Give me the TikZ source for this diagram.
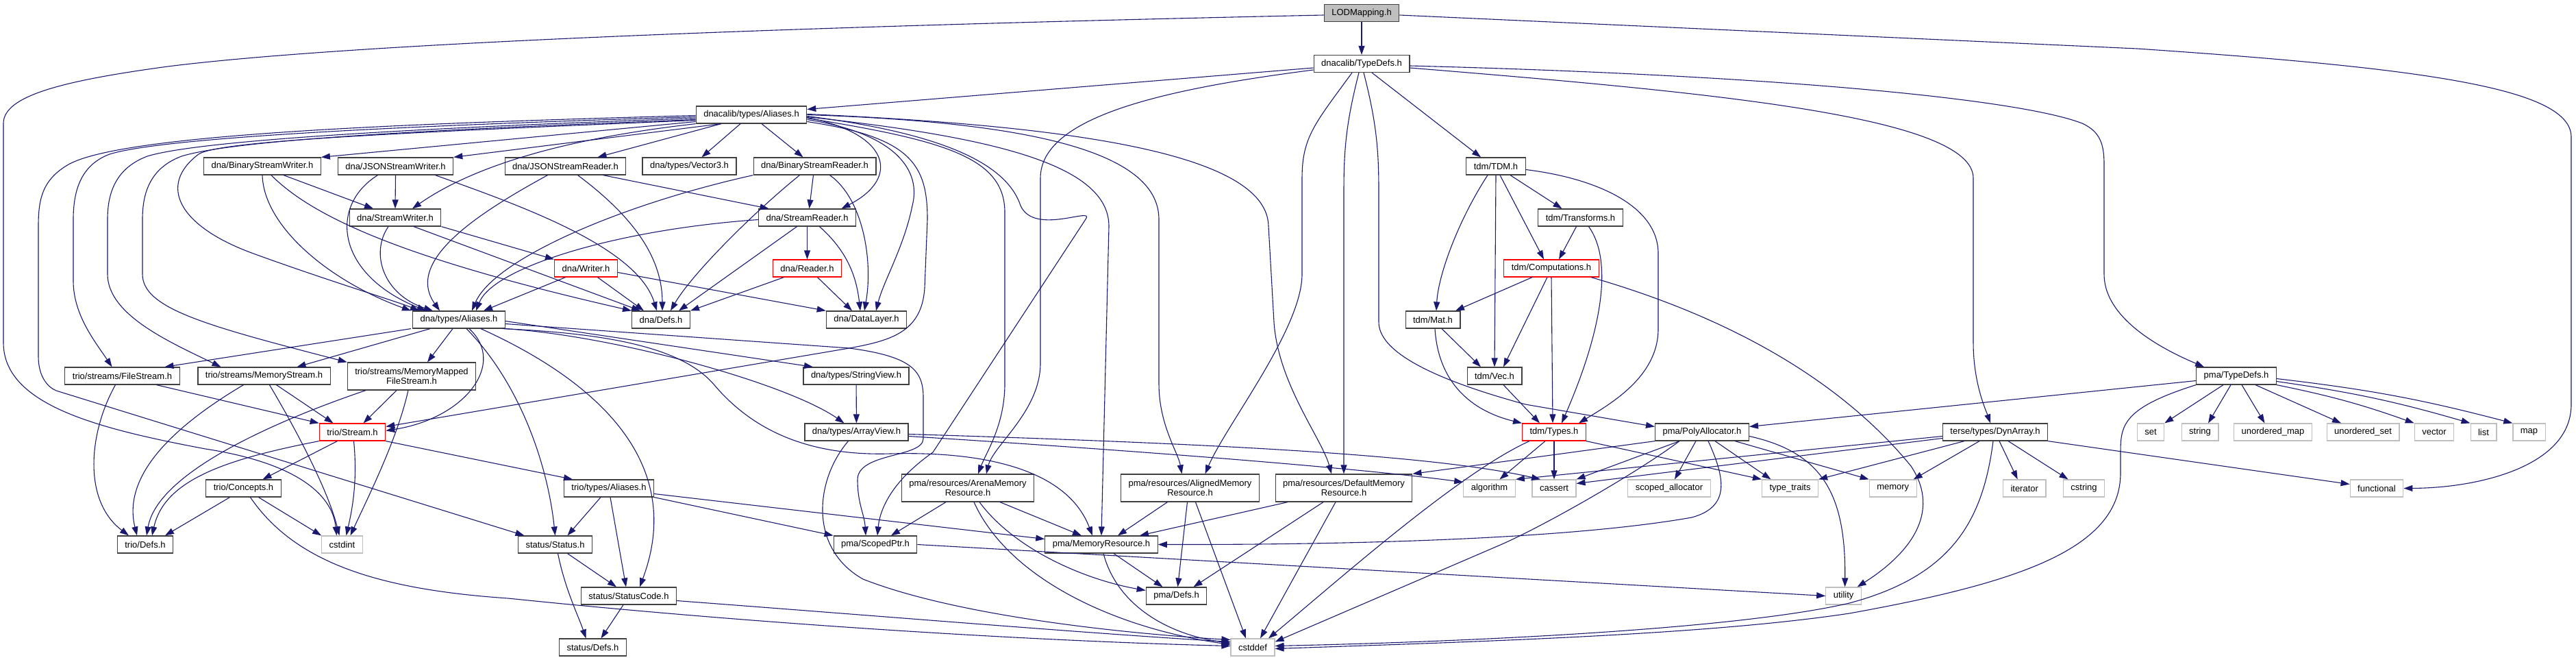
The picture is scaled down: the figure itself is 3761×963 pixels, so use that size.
\documentclass[tikz,border=0pt]{standalone}
\usepackage{fontspec}
\setmainfont{Liberation Sans}
\usetikzlibrary{arrows.meta}
\definecolor{linkblue}{HTML}{191970}
\definecolor{boxgray}{HTML}{404040}
\definecolor{sysgray}{HTML}{BFBFBF}
\tikzset{
  hfile/.style={draw=boxgray, line width=1.2pt, fill=white, inner xsep=11pt,
    inner ysep=0pt, minimum height=25pt, font=\fontsize{13}{14}\selectfont},
  hred/.style={hfile, draw=red},
  hsys/.style={hfile, draw=sysgray},
  htwo/.style={hfile, align=center, minimum height=40pt},
  inc/.style={draw=linkblue, line width=1.1pt, -{Triangle[length=13pt,width=9pt]}}
}
\begin{document}
\begin{tikzpicture}[x=1pt, y=-1pt]
  \useasboundingbox (0,0) rectangle (3761,963);
  %% Top of the graph
  \node[hfile, fill=sysgray] (lod) at (1988,19) {LODMapping.h};
  \node[hfile] (dtypedefs) at (1988,93) {dnacalib/TypeDefs.h};
  \node[hfile] (dcaliases) at (1097,167.5) {dnacalib/types/Aliases.h};
  %% dna headers
  \node[hfile] (bsw) at (383,242.5) {dna/BinaryStreamWriter.h};
  \node[hfile] (jsw) at (577.5,242.5) {dna/JSONStreamWriter.h};
  \node[hfile] (jsr) at (825.5,242.5) {dna/JSONStreamReader.h};
  \node[hfile] (vec3) at (1006.5,242.5) {dna/types/Vector3.h};
  \node[hfile] (bsr) at (1189.5,242.5) {dna/BinaryStreamReader.h};
  \node[hfile] (sw) at (577,317.5) {dna/StreamWriter.h};
  \node[hfile] (sr) at (1178.5,317.5) {dna/StreamReader.h};
  \node[hred] (writer) at (855.5,391.5) {dna/Writer.h};
  \node[hred] (reader) at (1178.5,391.5) {dna/Reader.h};
  \node[hfile] (dnaaliases) at (670,466.5) {dna/types/Aliases.h};
  \node[hfile] (dnadefs) at (965,466.5) {dna/Defs.h};
  \node[hfile] (datalayer) at (1265,466.5) {dna/DataLayer.h};
  \node[hfile] (stringview) at (1250,548.5) {dna/types/StringView.h};
  \node[hfile] (arrayview) at (1250.5,630.5) {dna/types/ArrayView.h};
  %% tdm headers
  \node[hfile] (tdm) at (2184,242.5) {tdm/TDM.h};
  \node[hfile] (transforms) at (2307.5,317.5) {tdm/Transforms.h};
  \node[hred] (computations) at (2265,391.5) {tdm/Computations.h};
  \node[hfile] (mat) at (2092,466.5) {tdm/Mat.h};
  \node[hfile] (vec) at (2182,548.5) {tdm/Vec.h};
  \node[hred] (types) at (2269,630.5) {tdm/Types.h};
  %% trio headers
  \node[hfile] (filestream) at (178.5,548.5) {trio/streams/FileStream.h};
  \node[hfile] (memstream) at (385.5,548.5) {trio/streams/MemoryStream.h};
  \node[htwo] (mmfs) at (601,549) {trio/streams/MemoryMapped\\FileStream.h};
  \node[hred] (triostream) at (514.5,630.5) {trio/Stream.h};
  \node[hfile] (concepts) at (355.5,712.5) {trio/Concepts.h};
  \node[hfile] (trioaliases) at (889,712.5) {trio/types/Aliases.h};
  \node[hfile] (triodefs) at (212,794.5) {trio/Defs.h};
  %% status headers
  \node[hfile] (status) at (810.5,794.5) {status/Status.h};
  \node[hfile] (statuscode) at (918,869.5) {status/StatusCode.h};
  \node[hfile] (statusdefs) at (865.5,944.5) {status/Defs.h};
  %% pma headers
  \node[htwo] (arena) at (1413,712) {pma/resources/ArenaMemory\\Resource.h};
  \node[htwo] (aligned) at (1737.5,712) {pma/resources/AlignedMemory\\Resource.h};
  \node[htwo] (dflt) at (1962,712) {pma/resources/DefaultMemory\\Resource.h};
  \node[hfile] (scopedptr) at (1278,794.5) {pma/ScopedPtr.h};
  \node[hfile] (memres) at (1608,794.5) {pma/MemoryResource.h};
  \node[hfile] (pmadefs) at (1717.5,869.5) {pma/Defs.h};
  \node[hfile] (poly) at (2485,630.5) {pma/PolyAllocator.h};
  \node[hfile] (pmatypedefs) at (3265,548.5) {pma/TypeDefs.h};
  \node[hfile] (dynarray) at (2913,630.5) {terse/types/DynArray.h};
  %% system headers
  \node[hsys] (cstdint) at (499.5,794.5) {cstdint};
  \node[hsys] (cstddef) at (1829,944.5) {cstddef};
  \node[hsys] (algorithm) at (2174.5,712.5) {algorithm};
  \node[hsys] (cassert) at (2269,712.5) {cassert};
  \node[hsys] (scopedalloc) at (2437,712.5) {scoped\_allocator};
  \node[hsys] (typetraits) at (2613.5,712.5) {type\_traits};
  \node[hsys] (memory) at (2763.7,712.5) {memory};
  \node[hsys] (iterator) at (2955.7,712.5) {iterator};
  \node[hsys] (cstring) at (3042.5,712.5) {cstring};
  \node[hsys] (functional) at (3470,712.5) {functional};
  \node[hsys] (utility) at (2691.6,869.5) {utility};
  \node[hsys] (set) at (3140,630.5) {set};
  \node[hsys] (string) at (3212,630.5) {string};
  \node[hsys] (umap) at (3318.5,630.5) {unordered\_map};
  \node[hsys] (uset) at (3450,630.5) {unordered\_set};
  \node[hsys] (vector) at (3554,630.5) {vector};
  \node[hsys] (list) at (3626,630.5) {list};
  \node[hsys] (map) at (3692.5,630.5) {map};

  %% LODMapping.h
  \draw[inc] (lod) -- (dtypedefs);
  \draw[inc] ([yshift=-3]lod.west) .. controls (1100,40) and (500,65) .. (245,97)
    .. controls (90,118) and (5,140) .. (5,180) -- (5,500)
    .. controls (5,590) and (140,625) .. (300,655)
    .. controls (430,675) and (485,720) .. ([xshift=-8]cstdint.north);
  \draw[inc] ([yshift=-3]lod.east) -- (3120,71) .. controls (3550,100) and (3754,130) .. (3754,200)
    -- (3754,590) .. controls (3754,680) and (3620,712) .. (functional.east);

  %% dnacalib/TypeDefs.h
  \draw[inc] ([yshift=-6]dtypedefs.west) -- ([yshift=8]dcaliases.east);
  \draw[inc] ([yshift=-9]dtypedefs.west) .. controls (1700,130) and (1519,170) .. (1519,260)
    -- (1519,530) .. controls (1519,600) and (1450,650) .. ([xshift=27]arena.north);
  \draw[inc] ([xshift=-14]dtypedefs.south) .. controls (1920,180) and (1901,200) .. (1901,260)
    -- (1901,400) .. controls (1901,480) and (1790,620) .. ([xshift=22]aligned.north);
  \draw[inc] ([xshift=-4]dtypedefs.south) .. controls (1965,180) and (1962,220) .. (1962,280)
    -- (dflt.north);
  \draw[inc] ([xshift=3]dtypedefs.south) .. controls (2010,180) and (2013,220) .. (2013,280)
    -- (2013,470) .. controls (2013,510) and (2080,550) .. (2227,590) -- ([yshift=8]poly.west);
  \draw[inc] ([xshift=15]dtypedefs.south) -- ([xshift=-22]tdm.north);
  \draw[inc] ([yshift=-3]dtypedefs.east) .. controls (2600,110) and (2950,145) .. (3040,180)
    .. controls (3066,192) and (3072,210) .. (3072,240) -- (3072,400)
    .. controls (3072,470) and (3170,515) .. ([xshift=-47]pmatypedefs.north);
  \draw[inc] ([yshift=-6]dtypedefs.east) .. controls (2500,135) and (2881,170) .. (2881,260)
    -- (2881,500) .. controls (2881,560) and (2900,600) .. ([xshift=-7]dynarray.north);

  %% dnacalib/types/Aliases.h
  \draw[inc] ([yshift=-10]dcaliases.west) -- (bsw.north east);
  \draw[inc] ([xshift=-44]dcaliases.south) -- (jsw.north east);
  \draw[inc] ([xshift=-44]dcaliases.south) -- ([xshift=47]jsr.north);
  \draw[inc] ([xshift=-16]dcaliases.south) -- ([xshift=18]vec3.north);
  \draw[inc] ([xshift=15]dcaliases.south) -- ([xshift=-17]bsr.north);
  \draw[inc] (dcaliases.south west) .. controls (800,205) and (680,250) .. ([xshift=25]sw.north);
  \draw[inc] ([yshift=-4]dcaliases.east) .. controls (1300,195) and (1315,260) .. ([xshift=50]sr.north);
  \draw[inc] ([yshift=-7]dcaliases.east) .. controls (1310,195) and (1345,250) .. (1332,300)
    .. controls (1320,360) and (1290,410) .. ([xshift=14]datalayer.north);
  \draw[inc] ([yshift=-10]dcaliases.east) .. controls (1330,200) and (1354,240) .. (1354,320)
    -- (1350,420) .. controls (1346,485) and (1300,497) .. (1240,508) -- ([yshift=8]triostream.east);
  \draw[inc] ([yshift=-2]dcaliases.east) .. controls (1380,195) and (1470,240) .. (1490,300)
    .. controls (1510,345) and (1600,300) .. (1585,320) -- (1362,660)
    .. controls (1305,700) and (1285,740) .. ([xshift=3]scopedptr.north);
  \draw[inc] ([yshift=-5]dcaliases.east) .. controls (1380,205) and (1467,230) .. (1467,310)
    -- (1467,560) .. controls (1467,620) and (1440,660) .. ([xshift=15]arena.north);
  \draw[inc] ([yshift=-3]dcaliases.east) .. controls (1450,200) and (1619,240) .. (1619,330)
    -- (memres.north);
  \draw[inc] (dcaliases.east) .. controls (1500,178) and (1692,220) .. (1692,320)
    -- (1692,560) .. controls (1692,620) and (1720,660) .. ([xshift=-12]aligned.north);
  \draw[inc] ([yshift=1]dcaliases.east) .. controls (1600,185) and (1850,230) .. (1852,330)
    -- (1860,470) .. controls (1866,560) and (1930,640) .. ([xshift=-18]dflt.north);
  \draw[inc] ([yshift=-1]dcaliases.west) .. controls (600,180) and (180,195) .. (100,240)
    .. controls (62,262) and (56,290) .. (56,330) -- (56,520)
    .. controls (56,550) and (70,565) .. (82,570) -- ([xshift=-45]status.north);
  \draw[inc] ([yshift=-3]dcaliases.west) .. controls (600,183) and (240,200) .. (160,225)
    .. controls (120,240) and (107,275) .. (107,320) -- (107,410)
    .. controls (107,460) and (140,500) .. ([xshift=-15]filestream.north);
  \draw[inc] ([yshift=-5]dcaliases.west) .. controls (600,187) and (290,205) .. (215,228)
    .. controls (170,245) and (157,280) .. (157,320) -- (157,400)
    .. controls (157,460) and (250,500) .. ([xshift=-63]memstream.north);
  \draw[inc] ([yshift=-7]dcaliases.west) .. controls (600,190) and (340,205) .. (265,228)
    .. controls (220,245) and (208,280) .. (208,320) -- (208,400)
    .. controls (208,450) and (300,475) .. (mmfs.north west);
  \draw[inc] ([yshift=-8]dcaliases.west) .. controls (600,193) and (320,205) .. (290,225)
    .. controls (230,270) and (260,330) .. (370,370)
    .. controls (480,410) and (580,440) .. ([xshift=-58]dnaaliases.north);

  %% dna writers
  \draw[inc] ([xshift=31]bsw.south) -- ([xshift=-32]sw.north);
  \draw[inc] (bsw.south) .. controls (385,330) and (480,410) .. ([xshift=-70]dnaaliases.north);
  \draw[inc] ([xshift=13]bsw.south) .. controls (460,320) and (600,380) .. (dnadefs.north west);
  \draw[inc] (jsw.south) -- (sw.north);
  \draw[inc] ([xshift=-26]jsw.south) .. controls (480,300) and (490,400) .. ([xshift=-48]dnaaliases.north);
  \draw[inc] ([xshift=58]jsw.south) .. controls (760,300) and (930,360) .. ([xshift=-6]dnadefs.north);
  \draw[inc] (sw.south east) -- (writer.north west);
  \draw[inc] ([xshift=27]sw.south) -- ([xshift=-30]dnadefs.north);
  \draw[inc] ([xshift=-10]sw.south) .. controls (540,370) and (560,430) .. ([xshift=-38]dnaaliases.north);

  %% dna readers
  \draw[inc] ([xshift=-26]jsr.south) .. controls (700,310) and (590,380) .. ([xshift=-28]dnaaliases.north);
  \draw[inc] ([xshift=18]jsr.south) .. controls (930,320) and (967,380) .. ([xshift=2]dnadefs.north);
  \draw[inc] ([xshift=55]jsr.south) -- ([xshift=-56]sr.north);
  \draw[inc] ([xshift=-2]bsr.south) -- ([xshift=3]sr.north);
  \draw[inc] (bsr.south west) .. controls (900,300) and (720,380) .. ([xshift=19]dnaaliases.north);
  \draw[inc] ([xshift=-22]bsr.south) .. controls (1100,310) and (1010,400) .. ([xshift=14]dnadefs.north);
  \draw[inc] ([xshift=22]bsr.south) .. controls (1260,290) and (1275,380) .. ([xshift=-3]datalayer.north);
  \draw[inc] (sr.south) -- (reader.north);
  \draw[inc] ([yshift=-3]sr.west) .. controls (900,335) and (720,390) .. ([xshift=25]dnaaliases.north);
  \draw[inc] ([xshift=-15]sr.south) -- ([xshift=26]dnadefs.north);
  \draw[inc] ([xshift=18]sr.south) .. controls (1235,365) and (1250,400) .. ([xshift=-9]datalayer.north);
  \draw[inc] ([xshift=-30]writer.south) -- ([xshift=36]dnaaliases.north);
  \draw[inc] ([xshift=17]writer.south) -- ([xshift=-25]dnadefs.north);
  \draw[inc] ([yshift=-6]writer.east) -- (datalayer.north west);
  \draw[inc] ([xshift=-34]reader.south) -- (dnadefs.north east);
  \draw[inc] ([xshift=15]reader.south) -- ([xshift=-21]datalayer.north);

  %% dna/types/Aliases.h
  \draw[inc] ([xshift=-70]dnaaliases.south) -- ([xshift=62]filestream.north);
  \draw[inc] ([xshift=-42]dnaaliases.south) -- ([xshift=48]memstream.north);
  \draw[inc] ([xshift=-9]dnaaliases.south) -- ([xshift=23]mmfs.north);
  \draw[inc] ([xshift=15]dnaaliases.south) .. controls (740,530) and (680,610) .. ([yshift=2]triostream.east);
  \draw[inc] ([xshift=11]dnaaliases.south) .. controls (760,560) and (800,680) .. (status.north);
  \draw[inc] ([xshift=32]dnaaliases.south) .. controls (880,560) and (1000,680) .. ([xshift=16]statuscode.north);
  \draw[inc] ([yshift=-2]dnaaliases.east) -- ([xshift=-63]stringview.north);
  \draw[inc] ([yshift=-6]dnaaliases.east) -- (1240,508) .. controls (1330,520) and (1348,540) .. (1348,580)
    -- (1348,640) .. controls (1348,668) and (1252,660) .. (1252,700)
    .. controls (1252,735) and (1262,750) .. ([xshift=-14]scopedptr.north);
  \draw[inc] (dnaaliases.south east) .. controls (900,490) and (1150,560) .. ([xshift=-18]arrayview.north);
  \draw[inc] ([xshift=-4]dnaaliases.south east) .. controls (900,487) and (1000,510) .. (1044,563)
    .. controls (1110,640) and (1200,665) .. (1300,662)
    .. controls (1450,658) and (1560,690) .. ([xshift=-13]memres.north);

  %% trio streams
  \draw[inc] ([xshift=50]filestream.south) -- (triostream.north west);
  \draw[inc] ([xshift=-10]filestream.south) .. controls (130,630) and (120,730) .. ([xshift=-24]triodefs.north);
  \draw[inc] ([xshift=-30]memstream.south) .. controls (240,630) and (180,700) .. ([xshift=-12]triodefs.north);
  \draw[inc] ([xshift=8]memstream.south) .. controls (440,640) and (480,720) .. ([xshift=-4]cstdint.north);
  \draw[inc] ([xshift=18]memstream.south) -- ([xshift=-28]triostream.north);
  \draw[inc] ([xshift=-67]mmfs.south) .. controls (400,615) and (230,690) .. ([xshift=2]triodefs.north);
  \draw[inc] ([xshift=-22]mmfs.south) -- ([xshift=16]triostream.north);
  \draw[inc] ([xshift=-5]mmfs.south) .. controls (580,640) and (540,720) .. ([xshift=12]cstdint.north);
  \draw[inc] (triostream.south west) .. controls (330,670) and (240,700) .. ([xshift=10]triodefs.north);
  \draw[inc] ([xshift=-22]triostream.south) -- ([xshift=28]concepts.north);
  \draw[inc] ([xshift=2]triostream.south) .. controls (522,700) and (515,740) .. ([xshift=6]cstdint.north);
  \draw[inc] (triostream.south east) -- ([xshift=-53]trioaliases.north);
  \draw[inc] ([xshift=-20]concepts.south) -- ([xshift=29]triodefs.north);
  \draw[inc] ([xshift=22]concepts.south) -- (cstdint.north west);
  \draw[inc] ([xshift=10]concepts.south) .. controls (430,820) and (550,860) .. (742,873)
    .. controls (1100,910) and (1500,935) .. ([yshift=2]cstddef.west);

  %% trio/types/Aliases.h and status
  \draw[inc] ([xshift=-12]trioaliases.south) -- ([xshift=18]status.north);
  \draw[inc] ([xshift=2]trioaliases.south) -- ([xshift=-4]statuscode.north);
  \draw[inc] (trioaliases.south east) -- (scopedptr.north west);
  \draw[inc] ([yshift=-8]trioaliases.east) -- ([yshift=8]memres.west);
  \draw[inc] ([xshift=18]status.south) -- ([xshift=-18]statuscode.north);
  \draw[inc] ([xshift=4]status.south) .. controls (825,860) and (845,900) .. ([xshift=-10]statusdefs.north);
  \draw[inc] ([xshift=-8]statuscode.south) -- ([xshift=12]statusdefs.north);
  \draw[inc] ([yshift=-7]statuscode.east) .. controls (1300,900) and (1600,925) .. ([yshift=8]cstddef.west);

  %% dna views
  \draw[inc] (stringview) -- (arrayview);
  \draw[inc] ([yshift=-3]arrayview.east) .. controls (1800,648) and (2100,665) .. ([xshift=-20]cassert.north);
  \draw[inc] ([yshift=-6]arrayview.east) .. controls (1700,660) and (2000,685) .. ([yshift=9]algorithm.west);
  \draw[inc] ([xshift=-12]arrayview.south) .. controls (1190,700) and (1180,800) .. (1260,845)
    .. controls (1400,900) and (1650,925) .. ([yshift=11]cstddef.west);

  %% pma resources
  \draw[inc] (scopedptr.east) -- (utility.west);
  \draw[inc] ([xshift=18]memres.south) -- ([xshift=-20]pmadefs.north);
  \draw[inc] ([xshift=3]memres.south) .. controls (1630,880) and (1700,925) .. ([yshift=6]cstddef.west);
  \draw[inc] ([xshift=-32]arena.south) -- ([xshift=23]scopedptr.north);
  \draw[inc] ([xshift=47]arena.south) -- ([xshift=-29]memres.north);
  \draw[inc] ([xshift=17]arena.south) .. controls (1480,800) and (1580,845) .. ([yshift=8]pmadefs.west);
  \draw[inc] ([xshift=9]arena.south) .. controls (1470,840) and (1620,915) .. ([yshift=4]cstddef.west);
  \draw[inc] ([xshift=-33]aligned.south) -- ([xshift=24]memres.north);
  \draw[inc] ([xshift=-4]aligned.south) -- ([xshift=2]pmadefs.north);
  \draw[inc] ([xshift=8]aligned.south) -- ([xshift=-10]cstddef.north);
  \draw[inc] ([xshift=-82]dflt.south) -- ([xshift=56]memres.north);
  \draw[inc] ([xshift=-30]dflt.south) -- ([xshift=25]pmadefs.north);
  \draw[inc] ([xshift=-12]dflt.south) -- ([xshift=11]cstddef.north);

  %% pma/PolyAllocator.h
  \draw[inc] ([xshift=9]poly.south) .. controls (2520,700) and (2525,740) .. (2470,755)
    .. controls (2300,785) and (2000,795) .. (memres.east);
  \draw[inc] (poly.south west) -- (dflt.north east);
  \draw[inc] ([xshift=-33]poly.south) -- (cassert.north east);
  \draw[inc] ([xshift=-9]poly.south) -- ([xshift=8]scopedalloc.north);
  \draw[inc] ([xshift=19]poly.south) -- ([xshift=-28]typetraits.north);
  \draw[inc] ([xshift=48]poly.south) -- (memory.north west);
  \draw[inc] ([yshift=-6]poly.east) .. controls (2660,660) and (2695,720) .. ([xshift=2]utility.north);
  \draw[inc] ([xshift=-33]poly.south) .. controls (2390,690) and (2250,770) .. (2186,797)
    -- ([yshift=8]cstddef.east);

  %% tdm
  \draw[inc] ([xshift=-12]tdm.south) .. controls (2130,320) and (2100,400) .. ([xshift=5]mat.north);
  \draw[inc] (tdm.south) -- (vec.north);
  \draw[inc] ([xshift=6]tdm.south) -- ([xshift=-11]computations.north);
  \draw[inc] ([xshift=21]tdm.south) -- ([xshift=-27]transforms.north);
  \draw[inc] ([yshift=-5]tdm.east) .. controls (2330,260) and (2421,300) .. (2421,370)
    -- (2421,480) .. controls (2421,550) and (2350,590) .. ([xshift=36]types.north);
  \draw[inc] ([xshift=-6]transforms.south) -- ([xshift=11]computations.north);
  \draw[inc] ([xshift=12]transforms.south) .. controls (2355,380) and (2340,480) .. ([xshift=11]types.north);
  \draw[inc] ([xshift=-28]computations.south) -- ([xshift=33]mat.north);
  \draw[inc] ([xshift=-6]computations.south) -- ([xshift=13]vec.north);
  \draw[inc] (computations.south) -- ([xshift=-2]types.north);
  \draw[inc] ([xshift=58]computations.south) .. controls (2550,470) and (2700,570) .. (2790,680)
    .. controls (2830,740) and (2800,800) .. ([xshift=20]utility.north);
  \draw[inc] ([xshift=13]mat.south) -- ([xshift=-20]vec.north);
  \draw[inc] ([xshift=3]mat.south) .. controls (2100,560) and (2150,600) .. (types.north west);
  \draw[inc] ([xshift=13]vec.south) -- ([xshift=-21]types.north);
  \draw[inc] ([xshift=-13]types.south) -- ([xshift=15]algorithm.north);
  \draw[inc] (types.south) -- (cassert.north);
  \draw[inc] ([xshift=-36]types.south) .. controls (2130,690) and (1950,850) .. ([xshift=23]cstddef.north);
  \draw[inc] (types.south east) -- (typetraits.north west);

  %% terse/types/DynArray.h
  \draw[inc] ([yshift=-6]dynarray.west) -- (algorithm.north east);
  \draw[inc] ([yshift=-9]dynarray.west) -- ([yshift=7]cassert.east);
  \draw[inc] ([xshift=-45]dynarray.south) -- (typetraits.north east);
  \draw[inc] ([xshift=-23]dynarray.south) -- ([xshift=30]memory.north);
  \draw[inc] ([xshift=6]dynarray.south) -- ([xshift=-10]iterator.north);
  \draw[inc] ([xshift=19]dynarray.south) -- ([xshift=-23]cstring.north);
  \draw[inc] ([xshift=-3]dynarray.south) .. controls (2895,760) and (2850,840) .. (2700,880)
    .. controls (2550,915) and (2200,935) .. ([yshift=2]cstddef.east);
  \draw[inc] (dynarray.south east) -- ([yshift=6]functional.west);

  %% pma/TypeDefs.h
  \draw[inc] ([yshift=-7]pmatypedefs.west) -- ([yshift=8]poly.east);
  \draw[inc] (pmatypedefs.south west) .. controls (3100,595) and (3096,620) .. (3096,660)
    -- (3096,690) .. controls (3096,800) and (2950,850) .. (2700,895)
    .. controls (2500,925) and (2200,935) .. ([yshift=-2]cstddef.east);
  \draw[inc] ([xshift=-19]pmatypedefs.south) -- (set.north east);
  \draw[inc] ([xshift=-8]pmatypedefs.south) -- ([xshift=12]string.north);
  \draw[inc] ([xshift=8]pmatypedefs.south) -- ([xshift=-12]umap.north);
  \draw[inc] ([xshift=28]pmatypedefs.south) -- ([xshift=-32]uset.north);
  \draw[inc] (pmatypedefs.south east) to[bend left=4] (vector.north west);
  \draw[inc] ([yshift=-8]pmatypedefs.east) to[bend left=4] (list.north west);
  \draw[inc] ([yshift=-4]pmatypedefs.east) to[bend left=4] (map.north west);
\end{tikzpicture}
\end{document}
